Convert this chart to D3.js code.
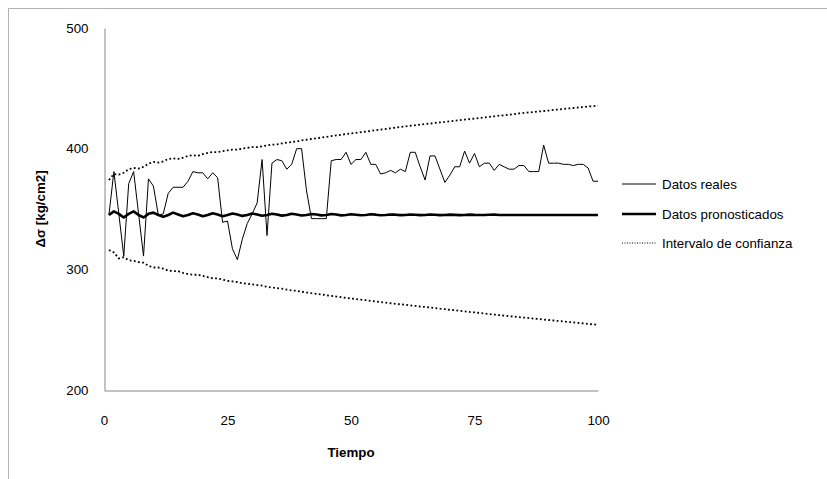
<!DOCTYPE html>
<html><head><meta charset="utf-8">
<script src="https://cdn.jsdelivr.net/npm/d3@7"></script>
<style>body{margin:0;background:#fff}svg{display:block}text{font-family:"Liberation Sans",Arial,sans-serif}</style>
</head><body><svg id="c" width="827" height="479"></svg>
<script>
const xTicks=[0,25,50,75,100];
const yTicks=[200,300,400,500];
const seriesNames=["Datos reales","Datos pronosticados","Intervalo de confianza"];
const realData=[345,381,346,311,371,381,346,311,375,369,345,346,363,368,368,
368,373,381,380,380,375,380,376,
339,340,317,308,325,338,346,355,391,328,388,391,390,383,387,
400,400,365,342,342,342,342,390,391,391,397,387,391,391,397,387,
387,379,380,382,380,383,381,397,397,385,374,394,394,383,372,378,385,385,398,388,396,385,388,
388,382,387,385,383,383,386,386,381,381,381,403,
388,388,388,387,387,386,387,387,384,373,373];
const forecast=[345,348,346,343,346,348,345,343,346,347,345,343.5,345,347,345.5,344,345,346.5,345.5,344,
345,346.5,345.5,344,345,346.3,345.5,344.3,345,346.2,345.5,344.4,345,346,345.5,344.5,345,346,345.5,344.6,
345,345.9,345.4,344.7,345,345.8,345.4,344.7,345,345.7,345.3,344.8,345,345.6,345.3,344.8,345,345.5,345.3,344.9,
345,345.4,345.2,344.9,345,345.4,345.2,344.9,345,345.3,345.1,344.9,345,345.3,345.1,345,345,345.2,345.4,345,
345,345,345,345,345,345,345,345,345,345,345,345,345,345,345,345,345,345,345,345];
const upperCI=[374,379,378.5,380,383,384,383.5,385,387.5,389,388.5,389.5,391.5,392,391.5,392.5,394,394.5,394,395.5,
396.5,397.2,397.1,397.9,398.6,399.2,399.2,400,400.7,401.3,401.3,402,402.7,403.3,403.5,404.3,405,405.6,406,406.8,
407.4,408,408.6,409.2,409.8,410.4,411,411.5,412.1,412.6,413.1,413.7,414.2,414.7,415.3,415.8,416.3,416.9,417.4,417.9,
418.5,419,419.4,419.9,420.4,420.8,421.3,421.8,422.2,422.7,423.1,423.6,424.1,424.5,425,425.4,425.9,426.4,426.8,427.3,
427.7,428.2,428.7,429.2,429.6,430,430.4,430.8,431.2,431.6,432.1,432.5,432.9,433.3,433.7,434.1,434.5,434.9,435.3,435.7];
const lowerCI=[316,314,309,310,307.5,307,306,305.5,303,301.5,301.5,300.5,299,298.5,298.5,297,296,295.5,295.5,294.5,
293.5,292.5,292.5,291.5,290.5,290,289.5,288.5,288,287.5,287,286.5,285.5,285,284.5,284,283.2,282.6,282.2,281.5,
280.8,280.2,279.7,279.1,278.6,278,277.4,276.9,276.4,275.9,275.4,274.9,274.4,273.9,273.4,272.9,272.4,271.9,271.4,271,
270.6,270.1,269.7,269.2,268.8,268.3,267.9,267.4,267,266.5,266.1,265.6,265.2,264.7,264.3,263.8,263.4,262.9,262.5,262,
261.6,261.2,260.8,260.4,260,259.6,259.2,258.8,258.4,258,257.6,257.2,256.8,256.4,256,255.6,255.2,254.8,254.4,254];

const svg=d3.select("#c");
svg.append("rect").attr("width",827).attr("height",479).attr("fill","#fff");
svg.append("rect").attr("x",8.5).attr("y",8.5).attr("width",900).attr("height",600)
  .attr("fill","none").attr("stroke","#b3b3b3").attr("stroke-width",1);

const x=d3.scaleLinear().domain([0,100]).range([104,598]);
const y=d3.scaleLinear().domain([200,500]).range([390,28]);

const fs="13.33px";
const yAxis=svg.append("g").attr("transform","translate(104.5,0)")
  .call(d3.axisLeft(y).tickValues(yTicks).tickSize(0).tickPadding(16));
yAxis.select(".domain").attr("stroke","#868686");
yAxis.selectAll("text").attr("font-size",fs).attr("fill","#000").style("font-family","Liberation Sans, Arial");

const xAxis=svg.append("g").attr("transform","translate(0,390.5)")
  .call(d3.axisBottom(x).tickValues(xTicks).tickSize(0).tickPadding(25));
xAxis.select(".domain").attr("stroke","#868686");
xAxis.selectAll("text").attr("font-size",fs).attr("fill","#000").style("font-family","Liberation Sans, Arial");

const line=arr=>d3.line().x((d,i)=>x(i+1)).y(d=>y(d))(arr);

svg.append("path").attr("d",line(upperCI)).attr("fill","none").attr("stroke","#000")
  .attr("stroke-width",1.8).attr("stroke-dasharray","1.8,2.4");
svg.append("path").attr("d",line(lowerCI)).attr("fill","none").attr("stroke","#000")
  .attr("stroke-width",1.8).attr("stroke-dasharray","1.8,2.4");
svg.append("path").attr("d",line(forecast)).attr("fill","none").attr("stroke","#000")
  .attr("stroke-width",2.6).attr("stroke-linejoin","round");
svg.append("path").attr("d",line(realData)).attr("fill","none").attr("stroke","#000")
  .attr("stroke-width",1).attr("stroke-linejoin","miter");

svg.append("text").attr("x",351).attr("y",457).attr("text-anchor","middle")
  .attr("font-size",fs).attr("font-weight","bold").text("Tiempo");
svg.append("text").attr("transform","translate(45,209) rotate(-90)").attr("text-anchor","middle")
  .attr("font-size",fs).attr("font-weight","bold").text("Δσ [kg/cm2]");

const legY=[184,214,243];
const legStyles=[{w:1,d:null},{w:2.6,d:null},{w:1,d:"1,1.5"}];
seriesNames.forEach((n,i)=>{
  const g=svg.append("g");
  const l=g.append("line").attr("x1",622).attr("x2",656).attr("y1",legY[i]).attr("y2",legY[i])
    .attr("stroke","#000").attr("stroke-width",legStyles[i].w);
  if(legStyles[i].d) l.attr("stroke-dasharray",legStyles[i].d);
  g.append("text").attr("x",662).attr("y",legY[i]).attr("dy","0.35em").attr("font-size",fs).text(n);
});
</script></body></html>
